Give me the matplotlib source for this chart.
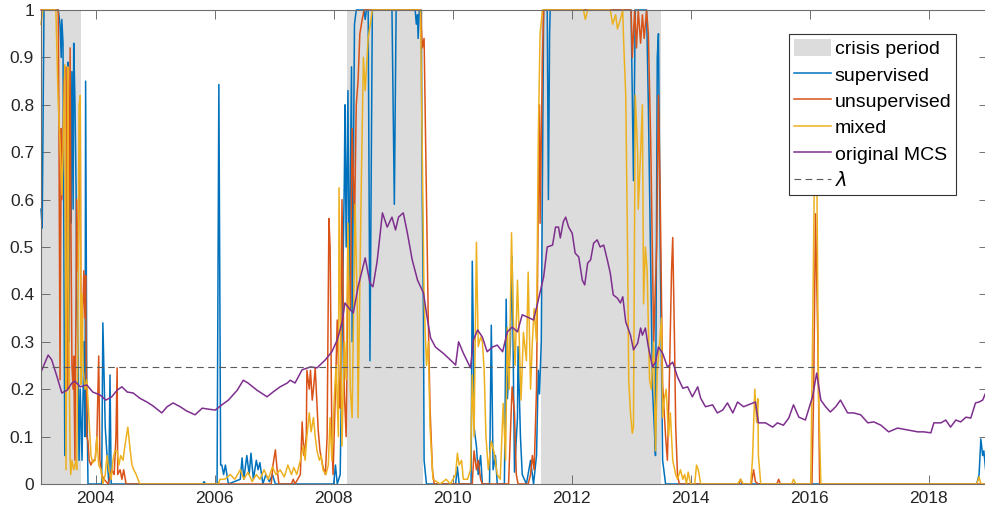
import numpy as np
import matplotlib
matplotlib.use('Agg')
import matplotlib.pyplot as plt

plt.rcParams['font.family'] = ['Liberation Sans', 'DejaVu Sans']

# Crisis periods (decimal years)
crisis_start = [2003.08, 2008.22, 2011.48]
crisis_end = [2003.75, 2009.51, 2013.51]

# Threshold
lam = 0.246

# Supervised model output
sup_t = [2003.08, 2003.10, 2003.13, 2003.37, 2003.40, 2003.42, 2003.43, 2003.45, 2003.48, 2003.52,
         2003.53, 2003.55, 2003.57, 2003.58, 2003.60, 2003.62, 2003.63, 2003.65, 2003.67, 2003.68,
         2003.70, 2003.72, 2003.74, 2003.77, 2003.80, 2003.82, 2003.83, 2003.85, 2003.87, 2004.10,
         2004.12, 2004.16, 2004.17, 2004.21, 2004.22, 2004.24, 2004.26, 2005.80, 2005.82, 2005.85,
         2006.04, 2006.07, 2006.10, 2006.12, 2006.15, 2006.18, 2006.23, 2006.43,
         2006.46, 2006.49, 2006.54, 2006.58, 2006.61, 2006.65, 2006.70, 2006.73, 2006.76, 2006.81,
         2006.86, 2006.92, 2006.97, 2007.02, 2008.00, 2008.03, 2008.06, 2008.11, 2008.14, 2008.18,
         2008.19, 2008.21, 2008.24, 2008.26, 2008.30, 2008.31, 2008.35, 2008.38, 2008.51, 2008.53,
         2008.55, 2008.58, 2008.61, 2008.65, 2008.98, 2009.02, 2009.05, 2009.37, 2009.39, 2009.41,
         2009.42, 2009.44, 2009.47, 2009.49, 2009.51, 2009.52, 2009.56, 2010.05, 2010.08, 2010.11,
         2010.31, 2010.33, 2010.35, 2010.36, 2010.40, 2010.43, 2010.47, 2010.50, 2010.62, 2010.65,
         2010.68, 2010.72, 2010.75, 2010.87, 2010.90, 2010.92, 2010.97, 2011.00, 2011.04, 2011.09,
         2011.10, 2011.14, 2011.17, 2011.24, 2011.31, 2011.36, 2011.41, 2011.44, 2011.46, 2011.49,
         2011.53, 2011.59, 2011.61, 2011.63, 2011.64, 2013.00, 2013.04, 2013.07, 2013.26, 2013.29,
         2013.33, 2013.36, 2013.39, 2013.41, 2013.44, 2013.46, 2013.49, 2013.53, 2013.58, 2018.81,
         2018.85, 2018.88, 2018.91, 2018.93, 2018.96, 2018.99]
sup_v = [0.58, 0.54, 1.0, 1.0, 0.97, 0.90, 0.98, 0.93, 0.06, 0.80,
         0.89, 0.30, 0.70, 0.55, 0.87, 0.58, 0.93, 0.81, 0.62, 0.40,
         0.30, 0.05, 0.20, 0.05, 0.30, 0.10, 0.85, 0.20, 0.0, 0.0,
         0.34, 0.12, 0.10, 0.02, 0.0, 0.23, 0.0, 0.0, 0.005, 0.0,
         0.0, 0.843, 0.04, 0.04, 0.02, 0.04, 0.0, 0.01,
         0.055, 0.01, 0.06, 0.02, 0.065, 0.01, 0.05, 0.03, 0.045, 0.0,
         0.02, 0.005, 0.02, 0.0, 0.0, 0.04, 0.0, 0.02, 0.30, 0.65,
         0.80, 0.50, 0.83, 0.40, 0.88, 0.30, 0.97, 1.0, 1.0, 0.98,
         1.0, 1.0, 0.26, 1.0, 1.0, 0.59, 1.0, 1.0, 0.97, 0.99,
         0.94, 1.0, 1.0, 0.60, 0.35, 0.05, 0.0, 0.0, 0.036, 0.0,
         0.0, 0.47, 0.30, 0.12, 0.08, 0.02, 0.06, 0.0, 0.0, 0.335,
         0.03, 0.06, 0.0, 0.0, 0.39, 0.18, 0.29, 0.48, 0.025, 0.14,
         0.29, 0.10, 0.02, 0.0, 0.05, 0.0, 0.06, 0.24, 0.19, 0.30,
         1.0, 1.0, 0.60, 0.95, 1.0, 1.0, 0.64, 1.0, 1.0, 0.80,
         0.45, 0.20, 0.12, 0.06, 0.90, 0.95, 0.50, 0.05, 0.0, 0.0,
         0.02, 0.095, 0.06, 0.07, 0.03, 0.02]

# Unsupervised model output
uns_t = [2003.08, 2003.37, 2003.38, 2003.40, 2003.42, 2003.43, 2003.47, 2003.50, 2003.53, 2003.55,
         2003.57, 2003.58, 2003.60, 2003.62, 2003.63, 2003.65, 2003.68, 2003.70, 2003.74, 2003.75,
         2003.77, 2003.80, 2003.82, 2003.83, 2003.85, 2003.87, 2003.89, 2003.92, 2003.95, 2003.99,
         2004.02, 2004.05, 2004.07, 2004.10, 2004.14, 2004.21, 2004.27, 2004.31, 2004.34, 2004.36,
         2004.37, 2004.41, 2004.44, 2004.47, 2004.51, 2006.95, 2006.98, 2007.02, 2007.05, 2007.08,
         2007.29, 2007.32, 2007.35, 2007.44, 2007.47, 2007.50, 2007.54, 2007.55, 2007.59, 2007.61,
         2007.64, 2007.66, 2007.69, 2007.74, 2007.77, 2007.82, 2007.86, 2007.89, 2007.92, 2007.94,
         2007.97, 2007.99, 2008.03, 2008.06, 2008.09, 2008.11, 2008.14, 2008.18, 2008.21, 2008.24,
         2008.28, 2008.31, 2008.35, 2008.38, 2008.41, 2008.44, 2008.48, 2008.51, 2009.46, 2009.49,
         2009.52, 2009.56, 2009.59, 2009.62, 2009.66, 2009.69, 2010.33, 2010.36, 2010.40, 2010.43,
         2010.47, 2010.50, 2010.94, 2010.97, 2011.00, 2011.04, 2011.07, 2011.10, 2011.27, 2011.31,
         2011.34, 2011.37, 2011.41, 2011.44, 2011.46, 2011.47, 2011.51, 2011.53, 2013.00, 2013.02,
         2013.06, 2013.09, 2013.12, 2013.16, 2013.19, 2013.22, 2013.26, 2013.29, 2013.33, 2013.38,
         2013.43, 2013.46, 2013.49, 2013.53, 2013.58, 2013.61, 2013.64, 2013.68, 2013.70, 2013.73,
         2013.75, 2013.78, 2013.81, 2014.81, 2014.84, 2014.87, 2015.02, 2015.06, 2015.09, 2015.14,
         2015.45, 2015.48, 2015.51, 2016.04, 2016.07, 2016.10, 2016.14, 2016.17, 2018.99]
uns_v = [1.0, 1.0, 0.80, 0.22, 0.75, 0.60, 0.85, 0.88, 0.20, 0.56,
         0.92, 0.60, 0.25, 0.20, 0.27, 0.05, 0.60, 0.45, 0.78, 0.40,
         0.30, 0.45, 0.35, 0.44, 0.10, 0.09, 0.05, 0.04, 0.05, 0.05,
         0.10, 0.27, 0.05, 0.02, 0.01, 0.0, 0.03, 0.02, 0.10, 0.245,
         0.02, 0.03, 0.01, 0.03, 0.0, 0.0, 0.04, 0.072, 0.03, 0.0,
         0.0, 0.01, 0.0, 0.02, 0.131, 0.06, 0.10, 0.24, 0.20, 0.24,
         0.177, 0.20, 0.245, 0.114, 0.07, 0.036, 0.02, 0.10, 0.56, 0.50,
         0.09, 0.02, 0.20, 0.346, 0.20, 0.16, 0.60, 0.19, 0.10, 0.45,
         0.37, 0.75, 0.55, 0.80, 0.85, 0.95, 0.98, 1.0, 1.0, 0.92,
         0.94, 0.60, 0.35, 0.16, 0.03, 0.0, 0.0, 0.07, 0.03, 0.05,
         0.01, 0.0, 0.0, 0.10, 0.205, 0.15, 0.02, 0.0, 0.0, 0.02,
         0.06, 0.03, 0.20, 0.60, 0.80, 0.55, 0.90, 1.0, 1.0, 0.90,
         1.0, 0.92, 1.0, 0.93, 0.99, 0.94, 1.0, 0.95, 0.72, 0.30,
         0.50, 0.82, 0.60, 0.21, 0.10, 0.05, 0.20, 0.45, 0.52, 0.30,
         0.12, 0.02, 0.0, 0.0, 0.01, 0.0, 0.0, 0.03, 0.005, 0.0,
         0.0, 0.01, 0.0, 0.0, 0.20, 0.57, 0.30, 0.0, 0.0]

# Mixed model output
mix_t = [2003.08, 2003.11, 2003.33, 2003.37, 2003.40, 2003.43, 2003.45, 2003.48, 2003.50, 2003.52,
         2003.53, 2003.55, 2003.57, 2003.58, 2003.60, 2003.63, 2003.67, 2003.68, 2003.70, 2003.72,
         2003.74, 2003.75, 2003.77, 2003.79, 2003.82, 2003.85, 2003.89, 2003.92, 2003.95, 2003.99,
         2004.02, 2004.05, 2004.09, 2004.12, 2004.16, 2004.19, 2004.22, 2004.26, 2004.29, 2004.32,
         2004.36, 2004.39, 2004.42, 2004.46, 2004.49, 2004.54, 2004.58, 2004.61, 2004.64, 2004.68,
         2004.74, 2006.06, 2006.09, 2006.17, 2006.26, 2006.34, 2006.43, 2006.49, 2006.56, 2006.63,
         2006.70, 2006.76, 2006.83, 2006.90, 2006.97, 2007.03, 2007.10, 2007.17, 2007.23, 2007.29,
         2007.33, 2007.38, 2007.44, 2007.49, 2007.52, 2007.55, 2007.59, 2007.62, 2007.66, 2007.69,
         2007.72, 2007.76, 2007.79, 2007.82, 2007.87, 2007.91, 2007.94, 2007.97, 2008.01, 2008.04,
         2008.08, 2008.09, 2008.13, 2008.14, 2008.18, 2008.21, 2008.24, 2008.28, 2008.31, 2008.36,
         2008.40, 2008.41, 2008.46, 2008.50, 2008.53, 2008.58, 2008.65, 2009.46, 2009.49, 2009.52,
         2009.56, 2009.59, 2009.62, 2009.67, 2009.79, 2009.89, 2009.96, 2010.05, 2010.08, 2010.11,
         2010.15, 2010.18, 2010.25, 2010.30, 2010.33, 2010.36, 2010.40, 2010.43, 2010.47, 2010.50,
         2010.53, 2010.56, 2010.60, 2010.65, 2010.70, 2010.75, 2010.80, 2010.85, 2010.89, 2010.92,
         2010.95, 2010.99, 2011.02, 2011.05, 2011.09, 2011.12, 2011.15, 2011.19, 2011.24, 2011.27,
         2011.31, 2011.34, 2011.37, 2011.41, 2011.44, 2011.47, 2011.51, 2012.20, 2012.23, 2012.27,
         2012.65, 2012.69, 2012.74, 2012.77, 2012.82, 2012.86, 2012.87, 2012.91, 2012.94, 2012.96,
         2012.99, 2013.02, 2013.04, 2013.07, 2013.11, 2013.12, 2013.16, 2013.19, 2013.21, 2013.24,
         2013.27, 2013.31, 2013.34, 2013.38, 2013.41, 2013.44, 2013.48, 2013.51, 2013.53, 2013.56,
         2013.59, 2013.63, 2013.66, 2013.70, 2013.75, 2013.78, 2013.83, 2013.87, 2013.90, 2013.93,
         2013.96, 2014.00, 2014.07, 2014.10, 2014.13, 2014.17, 2014.79, 2014.84, 2014.89, 2015.01,
         2015.04, 2015.08, 2015.11, 2015.13, 2015.14, 2015.18, 2015.70, 2015.73, 2015.77, 2016.02,
         2016.05, 2016.09, 2016.12, 2016.15, 2016.19, 2018.81, 2018.85, 2018.88, 2018.99]
mix_v = [0.97, 1.0, 1.0, 0.80, 0.72, 0.61, 0.70, 0.885, 0.03, 0.50,
         0.88, 0.30, 0.05, 0.02, 0.05, 0.03, 0.05, 0.03, 0.30, 0.80,
         0.82, 0.21, 0.40, 0.24, 0.20, 0.22, 0.13, 0.06, 0.045, 0.05,
         0.10, 0.04, 0.03, 0.0, 0.02, 0.06, 0.03, 0.01, 0.05, 0.07,
         0.07, 0.04, 0.06, 0.05, 0.08, 0.12, 0.07, 0.04, 0.03, 0.02,
         0.0, 0.0, 0.01, 0.01, 0.02, 0.01, 0.03, 0.01, 0.025, 0.005,
         0.02, 0.01, 0.03, 0.01, 0.036, 0.02, 0.03, 0.015, 0.04, 0.02,
         0.035, 0.02, 0.05, 0.08, 0.05, 0.10, 0.15, 0.11, 0.14, 0.10,
         0.07, 0.05, 0.06, 0.03, 0.02, 0.04, 0.14, 0.05, 0.18, 0.25,
         0.10, 0.625, 0.20, 0.08, 0.30, 0.22, 0.55, 0.20, 0.14, 0.59,
         0.35, 0.14, 0.60, 0.90, 0.83, 0.94, 1.0, 1.0, 0.69, 0.39,
         0.25, 0.30, 0.12, 0.01, 0.0, 0.01, 0.0, 0.02, 0.065, 0.04,
         0.05, 0.01, 0.01, 0.03, 0.23, 0.10, 0.51, 0.29, 0.31, 0.30,
         0.24, 0.10, 0.03, 0.09, 0.065, 0.02, 0.01, 0.17, 0.05, 0.33,
         0.20, 0.53, 0.35, 0.25, 0.43, 0.30, 0.177, 0.32, 0.26, 0.447,
         0.20, 0.30, 0.37, 0.30, 0.73, 0.95, 1.0, 1.0, 0.98, 1.0,
         1.0, 0.97, 0.99, 0.96, 0.98, 1.0, 0.95, 0.82, 0.50, 0.22,
         0.15, 0.107, 0.12, 0.82, 0.70, 0.58, 0.70, 0.80, 0.38, 0.50,
         0.45, 0.22, 0.20, 0.30, 0.07, 0.24, 0.30, 0.35, 0.14, 0.18,
         0.20, 0.10, 0.15, 0.05, 0.02, 0.01, 0.03, 0.01, 0.02, 0.0,
         0.025, 0.0, 0.0, 0.04, 0.03, 0.0, 0.0, 0.01, 0.0, 0.0,
         0.05, 0.20, 0.13, 0.18, 0.06, 0.0, 0.0, 0.01, 0.0, 0.0,
         0.30, 0.75, 0.70, 0.20, 0.0, 0.0, 0.015, 0.0, 0.0]

# Original MCS
mcs_t = [2003.08, 2003.20, 2003.26, 2003.35, 2003.43, 2003.52, 2003.60, 2003.65, 2003.74, 2003.85,
         2003.95, 2004.07, 2004.17, 2004.27, 2004.36, 2004.44, 2004.53, 2004.63, 2004.74, 2004.86,
         2004.96, 2005.11, 2005.20, 2005.30, 2005.42, 2005.53, 2005.67, 2005.79, 2005.89, 2006.01,
         2006.12, 2006.23, 2006.38, 2006.48, 2006.56, 2006.71, 2006.88, 2006.98, 2007.10, 2007.22,
         2007.27, 2007.35, 2007.47, 2007.61, 2007.72, 2007.86, 2007.97, 2008.06, 2008.14, 2008.19,
         2008.28, 2008.33, 2008.41, 2008.53, 2008.61, 2008.66, 2008.73, 2008.82, 2008.90, 2008.98,
         2009.04, 2009.09, 2009.17, 2009.24, 2009.32, 2009.41, 2009.51, 2009.57, 2009.63, 2009.71,
         2009.84, 2009.96, 2010.05, 2010.10, 2010.18, 2010.30, 2010.35, 2010.42, 2010.50, 2010.58,
         2010.67, 2010.75, 2010.84, 2010.92, 2011.00, 2011.09, 2011.17, 2011.26, 2011.36, 2011.44,
         2011.53, 2011.59, 2011.68, 2011.73, 2011.78, 2011.81, 2011.86, 2011.90, 2011.95, 2012.01,
         2012.06, 2012.12, 2012.18, 2012.22, 2012.27, 2012.32, 2012.37, 2012.43, 2012.48, 2012.54,
         2012.60, 2012.65, 2012.70, 2012.77, 2012.82, 2012.86, 2012.91, 2012.99, 2013.04, 2013.11,
         2013.16, 2013.19, 2013.24, 2013.29, 2013.36, 2013.41, 2013.46, 2013.53, 2013.61, 2013.70,
         2013.78, 2013.87, 2013.95, 2014.03, 2014.12, 2014.17, 2014.25, 2014.37, 2014.45, 2014.54,
         2014.62, 2014.71, 2014.79, 2014.89, 2014.97, 2015.09, 2015.14, 2015.26, 2015.38, 2015.46,
         2015.56, 2015.65, 2015.73, 2015.82, 2015.93, 2016.05, 2016.12, 2016.19, 2016.27, 2016.35,
         2016.44, 2016.52, 2016.64, 2016.74, 2016.86, 2016.98, 2017.08, 2017.20, 2017.33, 2017.48,
         2017.65, 2017.82, 2017.92, 2018.04, 2018.09, 2018.21, 2018.29, 2018.37, 2018.46, 2018.54,
         2018.63, 2018.71, 2018.79, 2018.85, 2018.91, 2018.96, 2019.00]
mcs_v = [0.236, 0.272, 0.262, 0.226, 0.192, 0.198, 0.213, 0.217, 0.205, 0.209,
         0.194, 0.188, 0.177, 0.184, 0.198, 0.205, 0.194, 0.192, 0.181, 0.173,
         0.165, 0.150, 0.163, 0.171, 0.163, 0.154, 0.146, 0.160, 0.158, 0.156,
         0.167, 0.177, 0.198, 0.219, 0.213, 0.198, 0.184, 0.194, 0.205, 0.213,
         0.219, 0.213, 0.241, 0.247, 0.245, 0.262, 0.279, 0.304, 0.340, 0.382,
         0.367, 0.361, 0.416, 0.477, 0.424, 0.416, 0.469, 0.572, 0.542, 0.563,
         0.536, 0.563, 0.572, 0.529, 0.473, 0.430, 0.403, 0.352, 0.308, 0.289,
         0.276, 0.262, 0.251, 0.300, 0.276, 0.245, 0.304, 0.325, 0.310, 0.279,
         0.289, 0.293, 0.279, 0.321, 0.331, 0.321, 0.357, 0.352, 0.346, 0.388,
         0.437, 0.500, 0.504, 0.542, 0.542, 0.519, 0.553, 0.563, 0.542, 0.529,
         0.487, 0.479, 0.430, 0.420, 0.466, 0.473, 0.508, 0.515, 0.500, 0.504,
         0.473, 0.445, 0.399, 0.392, 0.382, 0.395, 0.342, 0.314, 0.283, 0.297,
         0.329, 0.314, 0.329, 0.289, 0.247, 0.257, 0.289, 0.276, 0.247, 0.257,
         0.226, 0.202, 0.205, 0.184, 0.205, 0.181, 0.163, 0.167, 0.150, 0.156,
         0.171, 0.150, 0.173, 0.163, 0.167, 0.173, 0.129, 0.129, 0.120, 0.129,
         0.124, 0.139, 0.167, 0.141, 0.135, 0.184, 0.234, 0.177, 0.163, 0.152,
         0.163, 0.177, 0.150, 0.150, 0.146, 0.129, 0.131, 0.124, 0.110, 0.118,
         0.114, 0.110, 0.110, 0.108, 0.129, 0.129, 0.135, 0.120, 0.135, 0.131,
         0.141, 0.139, 0.171, 0.173, 0.177, 0.192, 0.185]

year_ticks = [2004, 2006, 2008, 2010, 2012, 2014, 2016, 2018]
value_ticks = [0, 0.1, 0.2, 0.3, 0.4, 0.5, 0.6, 0.7, 0.8, 0.9, 1]

fig = plt.figure(figsize=(9.85, 5.14), dpi=100)
ax = fig.add_axes([41 / 985, 30 / 514, 947 / 985, 474 / 514])

# Shaded crisis periods
for i, (s, e) in enumerate(zip(crisis_start, crisis_end)):
    ax.axvspan(s, e, color='#dcdcdc', lw=0, zorder=0,
               label='crisis period' if i == 0 else None)

# Series lines are left unclipped so the parts sitting at 1 are drawn in full
lw = 1.1
ax.plot(sup_t, sup_v, color='#0072BD', lw=lw, label='supervised', zorder=2, clip_on=False)
ax.plot(uns_t, uns_v, color='#D95319', lw=lw, label='unsupervised', zorder=3, clip_on=False)
ax.plot(mix_t, mix_v, color='#EDB120', lw=lw, label='mixed', zorder=4, clip_on=False)
ax.plot(mcs_t, mcs_v, color='#7E2F8E', lw=lw, label='original MCS', zorder=5)
ax.axhline(lam, color='#5a5a5a', lw=0.8, ls=(0, (6, 4)), label=r'$\lambda$', zorder=6)

ax.set_xlim(2003.08, 2019.0)
ax.set_ylim(0, 1)
ax.set_xticks(year_ticks)
ax.set_xticklabels([str(y) for y in year_ticks])
ax.set_yticks(value_ticks)
ax.set_yticklabels(['%g' % v for v in value_ticks])

ax.tick_params(direction='in', length=6.5, width=0.6, color='#5a5a5a',
               top=True, right=True, labelsize=12.5, labelcolor='#262626', pad=5)
for sp in ax.spines.values():
    sp.set_color('#6e6e6e')
    sp.set_linewidth(0.8)
    sp.set_zorder(10)

leg = ax.legend(loc='upper left', bbox_to_anchor=(0.790, 0.949), borderaxespad=0,
                fontsize=14, frameon=True, fancybox=False, framealpha=1,
                edgecolor='#333333', labelspacing=0.36, handlelength=1.9,
                handleheight=1.0, handletextpad=0.2, borderpad=0.25)
leg.get_frame().set_linewidth(0.8)
leg.set_zorder(20)

fig.savefig('out.png', dpi=100)
